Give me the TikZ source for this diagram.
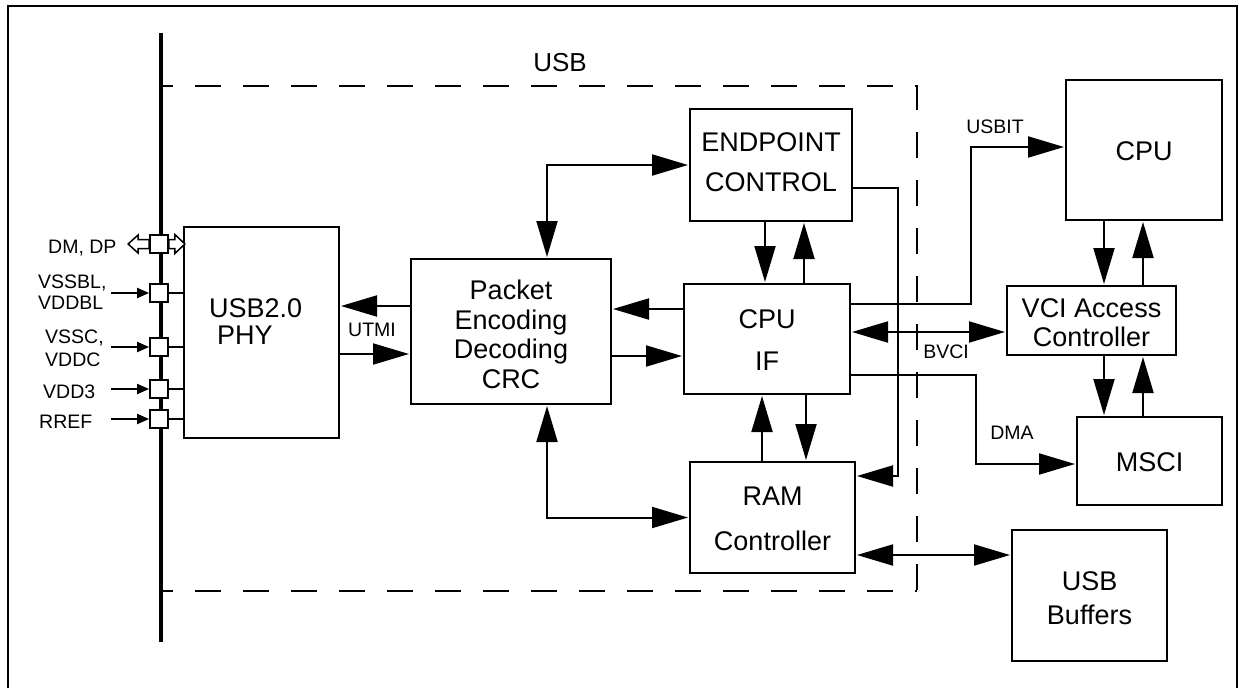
\documentclass[tikz,border=0pt]{standalone}
\usepackage{fontspec}
\setmainfont{Liberation Sans}
\usetikzlibrary{arrows.meta,calc}
\begin{document}
\begin{tikzpicture}[x=1pt,y=-1pt,
  box/.style={draw,line width=2pt,rectangle,inner sep=0pt},
  btxt/.style={font=\fontsize{27}{32}\selectfont,inner sep=0pt,anchor=base},
  lbl/.style={font=\fontsize{19.5}{22}\selectfont,inner sep=0pt},
  plbl/.style={font=\fontsize{19.5}{22}\selectfont,inner sep=0pt,anchor=base west},
  conn/.style={line width=2pt},
  dashline/.style={line width=2pt,dash pattern=on 26pt off 22pt,dash phase=14pt},
  big/.style={-{Triangle[length=36pt,width=21pt]},shorten >=1pt},
  both/.style={{Triangle[length=36pt,width=21pt]}-{Triangle[length=36pt,width=21pt]},shorten >=1pt,shorten <=1pt},
  small/.style={-{Triangle[length=12pt,width=10pt]}},
  pinbox/.style={draw,line width=1.8pt,fill=white,minimum size=18pt,inner sep=0pt},
  hollow/.style={draw,line width=1.5pt,fill=white}
]
\useasboundingbox (0,0) rectangle (1239,688);
% outer frame
\draw[line width=2pt] (8,688) -- (8,6) -- (1237,6) -- (1237,688);
% bus
\draw[line width=4.5pt] (161,33) -- (161,642);
% USB dashed region
\draw[dashline] (161,86) -- (917,86) -- (917,591);
\draw[dashline] (161,591) -- (917,591);
\node[font=\fontsize{26}{30}\selectfont,inner sep=0pt] (usblbl) at (560,63) {USB};

% boxes
\node[box,minimum width=155pt,minimum height=211pt] (phy) at (261.5,332.5) {};
\node[box,minimum width=200pt,minimum height=145pt] (pkt) at (511,331.5) {};
\node[box,minimum width=162pt,minimum height=112pt] (ep) at (771,165) {};
\node[box,minimum width=166pt,minimum height=110pt] (cpuif) at (767,339) {};
\node[box,minimum width=165pt,minimum height=111pt] (ram) at (772.5,517.5) {};
\node[box,minimum width=156pt,minimum height=140pt] (cpu) at (1144,150) {};
\node[box,minimum width=169pt,minimum height=69pt] (vci) at (1091.5,320.5) {};
\node[box,minimum width=145pt,minimum height=88pt] (msci) at (1149.5,461) {};
\node[box,minimum width=155pt,minimum height=131pt] (buf) at (1089.5,595.5) {};

% box texts
\node[btxt,anchor=base west] (tphy1) at (209,317) {USB2.0};
\node[btxt,anchor=base west] (tphy2) at (217,344) {PHY};
\node[btxt] (tpkt1) at (511,299) {Packet};
\node[btxt] (tpkt2) at (511,329) {Encoding};
\node[btxt] (tpkt3) at (511,358) {Decoding};
\node[btxt] (tpkt4) at (511,388) {CRC};
\node[btxt] (tep1) at (771,151) {ENDPOINT};
\node[btxt] (tep2) at (771,191) {CONTROL};
\node[btxt] (tcif1) at (767,328) {CPU};
\node[btxt] (tcif2) at (767,370) {IF};
\node[btxt] (tram1) at (772.5,505) {RAM};
\node[btxt] (tram2) at (772.5,550) {Controller};
\node[btxt] (tcpu) at (1144,160) {CPU};
\node[btxt] (tvci1) at (1091.5,317) {VCI Access};
\node[btxt] (tvci2) at (1091.5,346) {Controller};
\node[btxt] (tmsci) at (1149.5,471) {MSCI};
\node[btxt] (tbuf1) at (1089.5,590) {USB};
\node[btxt] (tbuf2) at (1089.5,624) {Buffers};

% small labels
\node[lbl] (lutmi) at (372,330) {UTMI};
\node[lbl] (lusbit) at (995,127) {USBIT};
\node[lbl] (lbvci) at (946,352) {BVCI};
\node[lbl] (ldma) at (1012,433) {DMA};

% pins
\node[pinbox] (p1) at (159,244) {};
\node[pinbox] (p2) at (159,293) {};
\node[pinbox] (p3) at (159,347) {};
\node[pinbox] (p4) at (159,389) {};
\node[pinbox] (p5) at (159,419) {};
\draw[conn] (p2.east) -- (phy.west |- p2.east);
\draw[conn] (p3.east) -- (phy.west |- p3.east);
\draw[conn] (p4.east) -- (phy.west |- p4.east);
\draw[conn] (p5.east) -- (phy.west |- p5.east);
\coordinate (i2) at (111,293);
\coordinate (i3) at (111,347);
\coordinate (i4) at (111,389);
\coordinate (i5) at (111,419);
\draw[conn,small] (i2) -- (p2.west);
\draw[conn,small] (i3) -- (p3.west);
\draw[conn,small] (i4) -- (p4.west);
\draw[conn,small] (i5) -- (p5.west);
% hollow double arrows DM, DP
\draw[hollow] (p1.west) ++(0,-4.5) -- ++(-11,0) -- ++(0,-4.5) -- ++(-10,9) -- ++(10,9) -- ++(0,-4.5) -- ++(11,0) -- cycle;
\draw[hollow] (p1.east) ++(0,-4.5) -- ++(6,0) -- ++(0,-5) -- ++(10,9.5) -- ++(-10,9.5) -- ++(0,-5) -- ++(-6,0) -- cycle;
% pin labels
\node[plbl] (l1) at (48,253) {DM, DP};
\node[plbl] (l2a) at (38,288) {VSSBL,};
\node[plbl] (l2b) at (38,309) {VDDBL};
\node[plbl] (l3a) at (45,343) {VSSC,};
\node[plbl] (l3b) at (45,366) {VDDC};
\node[plbl] (l4) at (43,398) {VDD3};
\node[plbl] (l5) at (39,428) {RREF};

% connectors
\draw[conn,both] (pkt.north -| 547,0) |- (ep.west);
\draw[conn,both] (pkt.south -| 547,0) |- (ram.west);
\draw[conn,big] (ep.south -| 765,0) -- (cpuif.north -| 765,0);
\draw[conn,big] (cpuif.north -| 804,0) -- (ep.south -| 804,0);
\draw[conn,big] (cpuif.west |- 0,309) -- (pkt.east |- 0,309);
\draw[conn,big] (pkt.east |- 0,356) -- (cpuif.west |- 0,356);
\draw[conn,big] (pkt.west |- 0,306) -- (phy.east |- 0,306);
\draw[conn,big] (phy.east |- 0,354) -- (pkt.west |- 0,354);
\draw[conn,big] (ram.north -| 762,0) -- (cpuif.south -| 762,0);
\draw[conn,big] (cpuif.south -| 806,0) -- (ram.north -| 806,0);
\draw[conn,big] (ep.east |- 0,188) -| (898,476) -- (ram.east |- 0,476);
\draw[conn,big] (cpuif.east |- 0,304) -| (971,147) -- (cpu.west |- 0,147);
\draw[conn,both] (cpuif.east |- 0,332) -- (vci.west |- 0,332);
\draw[conn,big] (cpuif.east |- 0,375) -| (976,464) -- (msci.west |- 0,464);
\draw[conn,both] (ram.east |- 0,555) -- (buf.west |- 0,555);
\draw[conn,big] (cpu.south -| 1104,0) -- (vci.north -| 1104,0);
\draw[conn,big] (vci.north -| 1143,0) -- (cpu.south -| 1143,0);
\draw[conn,big] (vci.south -| 1104,0) -- (msci.north -| 1104,0);
\draw[conn,big] (msci.north -| 1143,0) -- (vci.south -| 1143,0);
\end{tikzpicture}
\end{document}
